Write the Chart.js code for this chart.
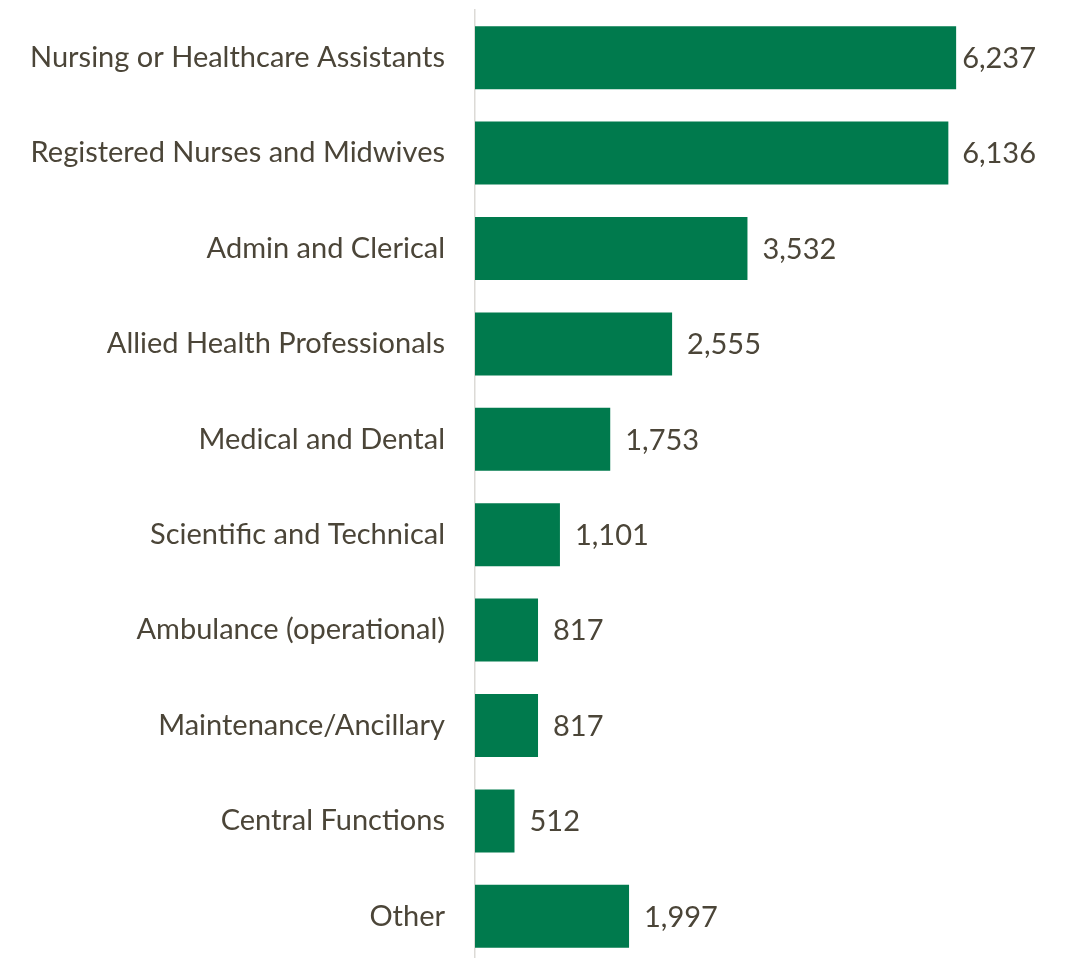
<!DOCTYPE html>
<html>
<head>
<meta charset="utf-8">
<script src="https://cdn.jsdelivr.net/npm/chart.js@4"></script>
<style>
  html, body { margin: 0; padding: 0; background: #fff; overflow: hidden; }
  #wrap { position: relative; width: 1066px; height: 964px; }
</style>
</head>
<body>
<div id="wrap"><canvas id="staffChart"></canvas></div>
<script>
// Staff groups and headcount
const groups = [
    'Nursing or Healthcare Assistants',
    'Registered Nurses and Midwives',
    'Admin and Clerical',
    'Allied Health Professionals',
    'Medical and Dental',
    'Scientific and Technical',
    'Ambulance (operational)',
    'Maintenance/Ancillary',
    'Central Functions',
    'Other'
];
const headcount = [6237, 6136, 3532, 2555, 1753, 1101, 817, 817, 512, 1997];

const textColor = '#4b4538';
const barColor = '#007a4d';
const fontFamily = 'Lato, "Open Sans", sans-serif';
const fontSize = 29;

// write the value next to the end of each bar, kept inside the canvas
const valueLabels = {
    id: 'valueLabels',
    afterDatasetsDraw(chart) {
        const ctx = chart.ctx;
        const meta = chart.getDatasetMeta(0);
        const maxRight = chart.width - 30;
        ctx.save();
        ctx.font = fontSize + 'px ' + fontFamily;
        ctx.fillStyle = textColor;
        ctx.textAlign = 'left';
        ctx.textBaseline = 'middle';
        meta.data.forEach((bar, i) => {
            const txt = headcount[i].toLocaleString('en-GB');
            const w = ctx.measureText(txt).width;
            const x = Math.min(bar.x + 15, maxRight - w);
            ctx.fillText(txt, x, bar.y + 1);
        });
        ctx.restore();
    }
};

new Chart(document.getElementById('staffChart'), {
    type: 'bar',
    data: {
        labels: groups,
        datasets: [{
            data: headcount,
            backgroundColor: barColor,
            borderWidth: 0,
            categoryPercentage: 1,
            barPercentage: 0.66
        }]
    },
    options: {
        indexAxis: 'y',
        responsive: true,
        maintainAspectRatio: false,
        animation: false,
        layout: { padding: { top: 10, right: 51, bottom: 0, left: 0 } },
        plugins: {
            legend: { display: false },
            tooltip: { enabled: false }
        },
        scales: {
            x: {
                display: false,
                min: 0,
                max: 7000
            },
            y: {
                afterFit(scale) {
                    // fixed gutter for the category names, no extra space above/below
                    scale.width = 475;
                    scale.paddingTop = 0;
                    scale.paddingBottom = 0;
                },
                grid: { display: false, drawTicks: false },
                border: { display: true, color: '#dcdad6', width: 1.5 },
                ticks: {
                    padding: 30,
                    color: textColor,
                    font: { family: fontFamily, size: fontSize }
                }
            }
        }
    },
    plugins: [valueLabels]
});
</script>
</body>
</html>
